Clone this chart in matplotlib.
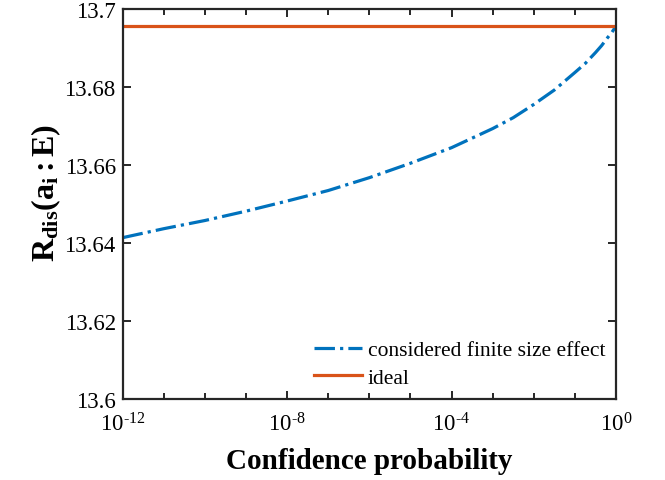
import matplotlib
matplotlib.use('Agg')
import matplotlib.pyplot as plt
import matplotlib.ticker as ticker

plt.rcParams['font.family'] = ['Liberation Serif', 'DejaVu Serif']
plt.rcParams['mathtext.fontset'] = 'custom'
plt.rcParams['mathtext.rm'] = 'Liberation Serif'
plt.rcParams['mathtext.it'] = 'Liberation Serif:italic'
plt.rcParams['mathtext.bf'] = 'Liberation Serif:bold'
plt.rcParams['axes.unicode_minus'] = False

# data
conf_prob = [1e-12, 1e-11, 1e-10, 1e-9, 1e-8, 1e-7, 1e-6, 1e-5, 1e-4,
             1e-3, 10 ** -2.5, 1e-2, 10 ** -1.5, 1e-1, 10 ** -0.75,
             10 ** -0.5, 10 ** -0.35, 10 ** -0.2, 10 ** -0.1, 1.0]
rate_finite = [13.6413, 13.6436, 13.6457, 13.6481, 13.6507, 13.6534, 13.6567,
               13.6604, 13.6644, 13.6693, 13.6721, 13.6755, 13.6792, 13.6837,
               13.6860, 13.6888, 13.6906, 13.6927, 13.6940, 13.6956]
rate_ideal = 13.6956

yticks = [13.6, 13.62, 13.64, 13.66, 13.68, 13.7]
ytick_labels = ['13.6', '13.62', '13.64', '13.66', '13.68', '13.7']
xticks = [1e-12, 1e-8, 1e-4, 1e0]
xtick_labels = [r'$10^{\text{-12}}$', r'$10^{\text{-8}}$', r'$10^{\text{-4}}$', r'$10^{0}$']
xminor = [1e-12, 1e-11, 1e-10, 1e-9, 1e-8, 1e-7, 1e-6, 1e-5, 1e-4,
          1e-3, 1e-2, 1e-1, 1e0]

blue = '#0072BD'
orange = '#D95319'
dark = '#262626'

fig = plt.figure(figsize=(6.65, 4.81), dpi=100)
ax = fig.add_axes([0.1845, 0.1694, 0.7418, 0.8098])

ax.plot(conf_prob, rate_finite, '-.', color=blue, lw=2.3,
        label='considered finite size effect')
ax.plot([conf_prob[0], conf_prob[-1]], [rate_ideal, rate_ideal], '-',
        color=orange, lw=2.3, label='ideal')

ax.set_xscale('log')
ax.set_xlim(1e-12, 1)
ax.set_ylim(13.6, 13.7)
ax.set_xticks(xticks)
ax.set_xticklabels(xtick_labels)
ax.xaxis.set_minor_locator(ticker.FixedLocator(xminor))
ax.xaxis.set_minor_formatter(ticker.NullFormatter())
ax.set_yticks(yticks)
ax.set_yticklabels(ytick_labels)

ax.tick_params(which='both', direction='in', top=True, right=True,
               labelsize=16.5, color=dark, width=1.4)
ax.tick_params(which='major', length=6)
ax.tick_params(which='minor', length=4)
ax.tick_params(axis='x', pad=10)
ax.tick_params(axis='y', pad=5)
for s in ax.spines.values():
    s.set_linewidth(1.6)
    s.set_color(dark)

ax.set_xlabel('Confidence probability', fontsize=21, fontweight='bold', labelpad=8)
ax.set_ylabel(r'$\mathbf{R_{dis}(a_i:E)}$', fontsize=23)
ax.yaxis.set_label_coords(-0.12, 0.53)

ax.legend(loc='lower right', frameon=False, fontsize=15.5, handlelength=2.25,
          borderaxespad=0.1, labelspacing=0.35, handletextpad=0.25)

fig.savefig('out.png', dpi=100)
